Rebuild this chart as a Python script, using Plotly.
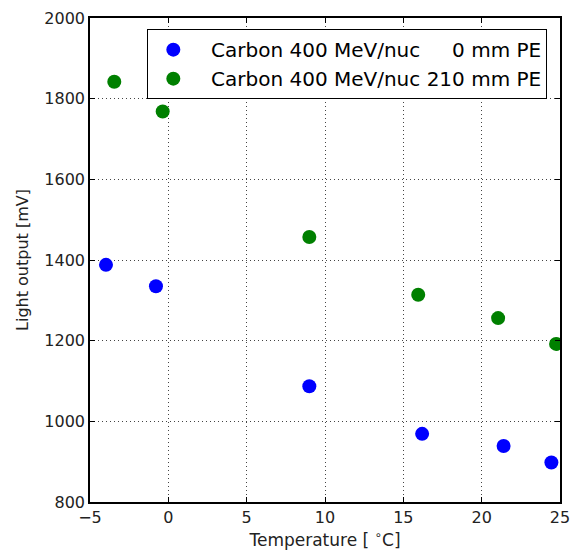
import plotly.graph_objects as go

temp_0mm = [-3.98, -0.79, 9.0, 16.2, 21.4, 24.45]
light_0mm = [1388, 1335, 1087, 969, 939, 898]

temp_210mm = [-3.45, -0.36, 9.0, 15.95, 21.05, 24.75]
light_210mm = [1842, 1768, 1457, 1314, 1256, 1192]

NB = "\u00a0"
label_0 = NB * 2 + "Carbon 400 MeV/nuc" + NB * 5 + "0 mm PE"
label_210 = NB * 2 + "Carbon 400 MeV/nuc 210 mm PE"

fig = go.Figure()
fig.add_trace(go.Scatter(x=temp_0mm, y=light_0mm, mode="markers", name=label_0,
                         marker=dict(color="#0000ff", size=14, line=dict(width=0))))
fig.add_trace(go.Scatter(x=temp_210mm, y=light_210mm, mode="markers", name=label_210,
                         marker=dict(color="#008000", size=14, line=dict(width=0))))

axis_common = dict(
    showgrid=True, gridcolor="#444444", griddash="1px,3px", gridwidth=1,
    ticks="inside", ticklen=5, tickcolor="black", tickwidth=1,
    showline=True, linecolor="black", linewidth=1.5, mirror="allticks",
    zeroline=False, tickfont=dict(size=16, color="#222222"), automargin=False,
    ticklabeloverflow="allow",
)

fig.update_xaxes(range=[-5, 25], tickvals=[-5, 0, 5, 10, 15, 20, 25],
                 ticktext=["\u22125", "0", "5", "10", "15", "20", "25"],
                 title=dict(text="Temperature [ <sup>\u2218</sup>C]", font=dict(size=17, color="#222222"), standoff=8),
                 **axis_common)
fig.update_yaxes(range=[800, 2000], tickvals=[800, 1000, 1200, 1400, 1600, 1800, 2000],
                 title=dict(text="Light output [mV]", font=dict(size=16, color="#222222"), standoff=12),
                 **axis_common)

fig.update_layout(
    width=570, height=557,
    margin=dict(l=90, r=10, t=18, b=55),
    plot_bgcolor="white", paper_bgcolor="white",
    font=dict(family="DejaVu Sans", color="#222222"),
    legend=dict(x=0.973, y=0.977, xanchor="right", yanchor="top",
                bordercolor="black", borderwidth=1, bgcolor="white",
                font=dict(size=20, color="black"), itemwidth=40, tracegroupgap=0),
    showlegend=True,
)

fig.write_html("out.html")
